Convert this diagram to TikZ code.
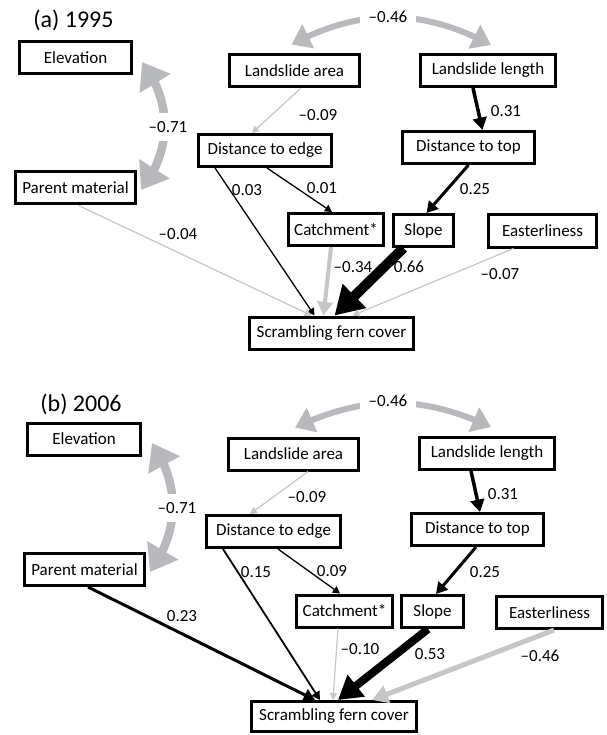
\documentclass[tikz,border=0pt]{standalone}
\usepackage{fontspec}
\setmainfont{Carlito}
\usepackage{tikz}
\usetikzlibrary{arrows.meta,bending}

\definecolor{pathgray}{RGB}{198,198,198}
\definecolor{corrgray}{RGB}{184,185,188}

\begin{document}
\begin{tikzpicture}[x=1pt,y=-1pt,
  var/.style={draw,line width=3pt,minimum height=32pt,inner sep=2pt,font=\fontsize{17}{20}\selectfont},
  coef/.style={inner sep=1pt,font=\fontsize{17}{20}\selectfont},
  panel/.style={inner sep=0pt,font=\fontsize{24}{28}\selectfont},
  effect/.style={line width=#1,-{Triangle[length=4pt 2.4,width=4pt 2.8]}},
  posfx/.style={effect=#1,black},
  negfx/.style={effect=#1,pathgray},
  corr/.style={line width=#1,corrgray,{Triangle[length=3pt 2.6,width=4pt 3.6]}-{Triangle[length=3pt 2.6,width=4pt 3.6]}},
  corrlab/.style={coef,fill=white,inner xsep=9pt,inner ysep=8pt}]
  \useasboundingbox (0,0) rectangle (606,735);

  % (a) 1995
  \node[panel] (titleA) at (73.5,20) {(a) 1995};
  \node[var,minimum width=112pt] (elevA) at (75.5,58) {Elevation};
  \node[var,minimum width=120pt] (parentA) at (75.5,188) {Parent material};
  \node[var,minimum width=130pt] (areaA) at (294.5,71) {Landslide area};
  \node[var,minimum width=135pt] (lengthA) at (488,70.5) {Landslide length};
  \node[var,minimum width=132pt] (topA) at (468.5,147.5) {Distance to top};
  \node[var,minimum width=133pt] (edgeA) at (265,150.5) {Distance to edge};
  \node[var,minimum width=95pt] (catchA) at (336,229.5) {Catchment*};
  \node[var,minimum width=60pt] (slopeA) at (423.5,230.5) {Slope};
  \node[var,minimum width=108pt] (eastA) at (542.5,231) {Easterliness};
  \node[var,minimum width=164pt] (fernA) at (331.5,333) {Scrambling fern cover};

  \draw[negfx=1.2pt] ([xshift=6pt]areaA.south) -- ([xshift=-13pt]edgeA.north);
  \draw[posfx=3.5pt] ([xshift=-15pt]lengthA.south) -- ([xshift=14pt]topA.north);
  \draw[posfx=3pt] (topA.south) -- ([xshift=3pt]slopeA.north);
  \draw[posfx=1.3pt] ([xshift=2pt]edgeA.south) -- ([xshift=-4pt]catchA.north);
  \draw[posfx=1.3pt] ([xshift=-50pt]edgeA.south) -- ([xshift=-17pt]fernA.north);
  \draw[negfx=1.2pt] ([xshift=3pt]parentA.south) -- ([xshift=-20pt]fernA.north);
  \draw[negfx=4pt] ([xshift=-5pt]catchA.south) -- ([xshift=-8pt]fernA.north);
  \draw[posfx=10pt] ([xshift=-20pt]slopeA.south) -- ([xshift=3pt]fernA.north);
  \draw[negfx=1.2pt] ([xshift=-29pt]eastA.south) -- ([xshift=21pt]fernA.north);

  \draw[corr=8.5pt] ([xshift=9pt,yshift=-4pt]elevA.east) to[bend left=38] ([xshift=4pt,yshift=-2pt]parentA.east);
  \node[corrlab] (rElevA) at (168,127) {--0.71};
  \draw[corr=6pt] ([xshift=-3pt,yshift=9pt]areaA.north) to[bend left=28] ([xshift=3pt,yshift=8pt]lengthA.north);
  \node[corrlab] (rAreaA) at (388,17) {--0.46};

  \node[coef] (cAreaA) at (318,115) {--0.09};
  \node[coef] (cLengthA) at (506,111) {0.31};
  \node[coef] (cTopA) at (475,189) {0.25};
  \node[coef] (cEdgeCatchA) at (322,188) {0.01};
  \node[coef] (cEdgeFernA) at (247,190) {0.03};
  \node[coef] (cParentA) at (178,234) {--0.04};
  \node[coef] (cCatchA) at (353,267) {--0.34};
  \node[coef] (cSlopeA) at (409,267) {0.66};
  \node[coef] (cEastA) at (500,274) {--0.07};

  % (b) 2006
  \node[panel] (titleB) at (81,404) {(b) 2006};
  \node[var,minimum width=113pt] (elevB) at (84,439) {Elevation};
  \node[var,minimum width=120pt] (parentB) at (84.5,569.5) {Parent material};
  \node[var,minimum width=130pt] (areaB) at (293.5,454) {Landslide area};
  \node[var,minimum width=135pt] (lengthB) at (487,453.5) {Landslide length};
  \node[var,minimum width=132pt] (topB) at (477.5,529.5) {Distance to top};
  \node[var,minimum width=134pt] (edgeB) at (273.5,531.5) {Distance to edge};
  \node[var,minimum width=96pt] (catchB) at (344.5,611) {Catchment*};
  \node[var,minimum width=62pt] (slopeB) at (432.5,611.5) {Slope};
  \node[var,minimum width=106pt] (eastB) at (549.5,612.5) {Easterliness};
  \node[var,minimum width=165pt,minimum height=30pt] (fernB) at (334,716.5) {Scrambling fern cover};

  \draw[negfx=1.2pt] ([xshift=14.5pt]areaB.south) -- ([xshift=-23.5pt]edgeB.north);
  \draw[posfx=3.5pt] ([xshift=-16pt]lengthB.south) -- ([xshift=2.5pt]topB.north);
  \draw[posfx=3pt] ([xshift=-1.5pt]topB.south) -- ([xshift=3.5pt]slopeB.north);
  \draw[posfx=1.3pt] ([xshift=4.5pt]edgeB.south) -- ([xshift=-4.5pt]catchB.north);
  \draw[posfx=1.8pt] ([xshift=-50.5pt]edgeB.south) -- ([xshift=-14pt]fernB.north);
  \draw[posfx=3pt] ([xshift=3.5pt]parentB.south) -- ([xshift=-19pt]fernB.north);
  \draw[negfx=1.2pt] ([xshift=-6.5pt]catchB.south) -- ([xshift=-1pt]fernB.north);
  \draw[posfx=8pt] ([xshift=-4.5pt]slopeB.south) -- ([xshift=4pt]fernB.north);
  \draw[negfx=5pt] ([xshift=4.5pt]eastB.south) -- ([xshift=38pt]fernB.north);

  \draw[corr=8.5pt] ([xshift=10pt,yshift=-4pt]elevB.east) to[bend left=35] ([xshift=4pt,yshift=-2.5pt]parentB.east);
  \node[corrlab] (rElevB) at (177,508) {--0.71};
  \draw[corr=6pt] ([xshift=1.5pt,yshift=9pt]areaB.north) to[bend left=25] ([xshift=4pt,yshift=9pt]lengthB.north);
  \node[corrlab] (rAreaB) at (388,401) {--0.46};

  \node[coef] (cAreaB) at (307,497) {--0.09};
  \node[coef] (cLengthB) at (503,494) {0.31};
  \node[coef] (cTopB) at (485,572) {0.25};
  \node[coef] (cEdgeCatchB) at (332,571) {0.09};
  \node[coef] (cEdgeFernB) at (256,572) {0.15};
  \node[coef] (cParentB) at (182,616) {0.23};
  \node[coef] (cCatchB) at (360,649) {--0.10};
  \node[coef] (cSlopeB) at (430,654) {0.53};
  \node[coef] (cEastB) at (540,656) {--0.46};
\end{tikzpicture}
\end{document}
